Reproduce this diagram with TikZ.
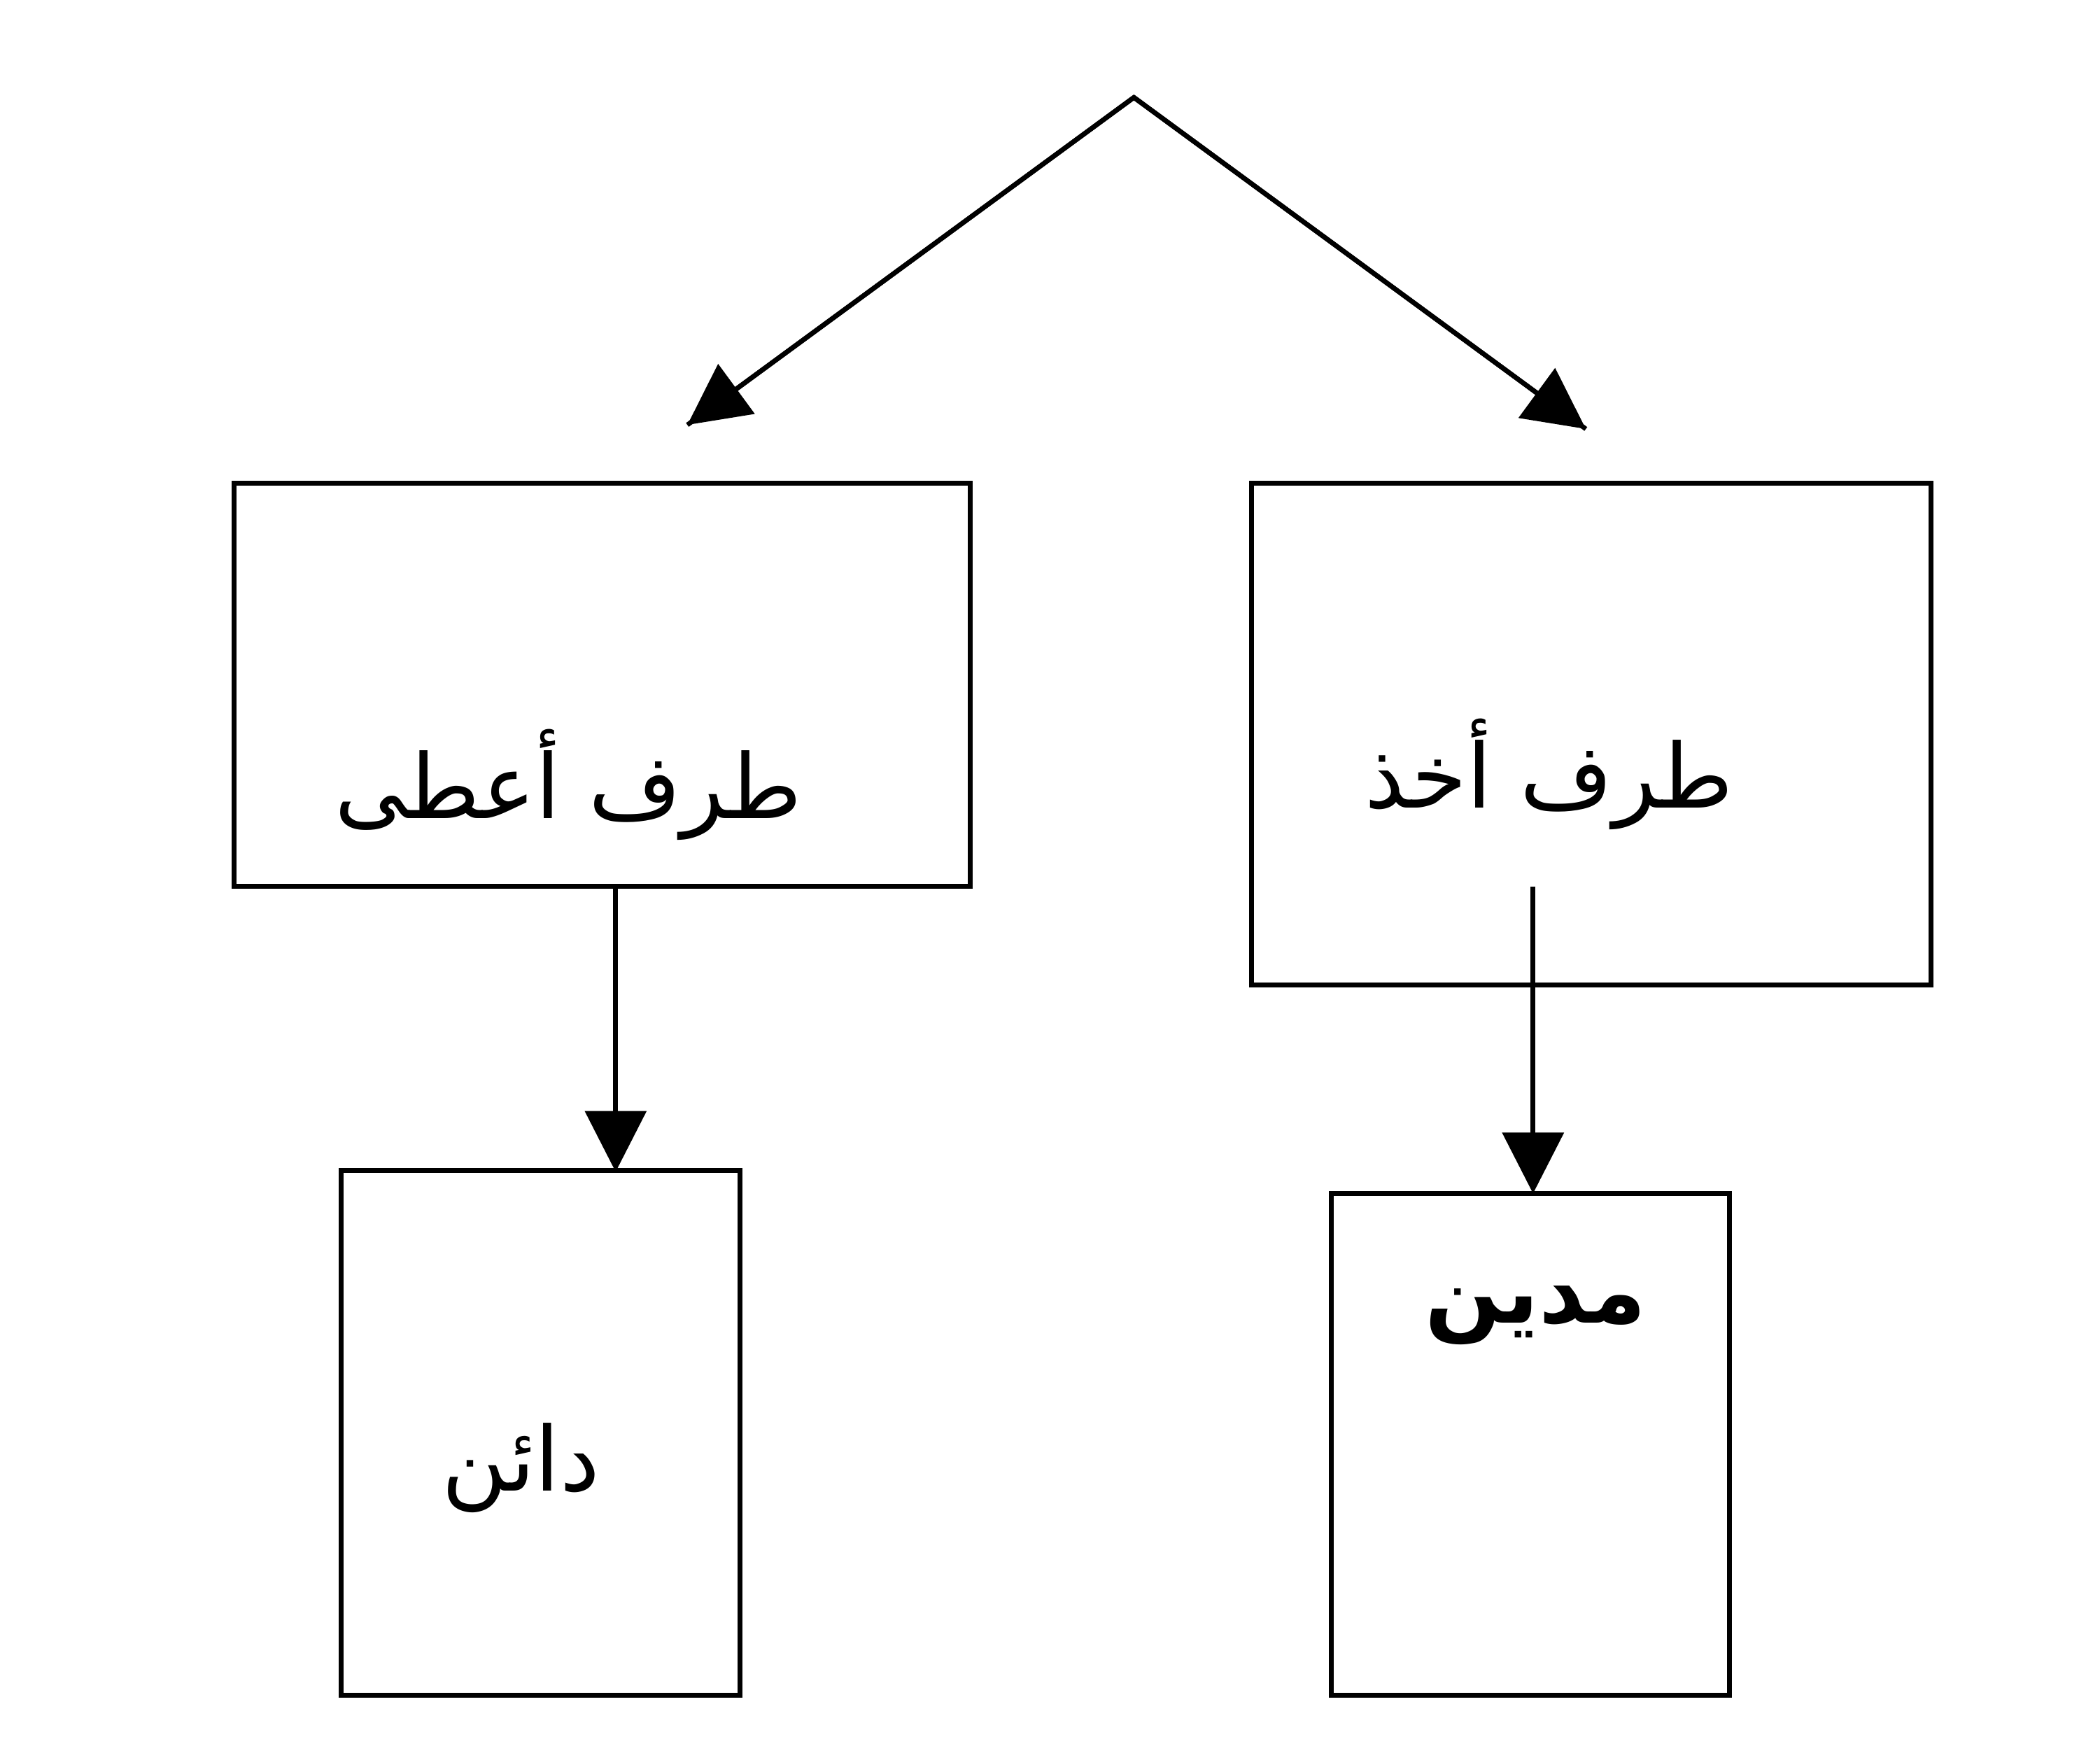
\documentclass[tikz,border=0pt]{standalone}
\usepackage{fontspec}
\newfontfamily\arabicfont[Script=Arabic]{DejaVu Sans}
\TeXXeTstate=1
\usetikzlibrary{arrows.meta}
\begin{document}
\begin{tikzpicture}[x=1pt,y=-1pt,
  box/.style={draw,line width=3.5pt},
  lbl/.style={font=\arabicfont\fontsize{66}{76}\selectfont},
  conn/.style={line width=3.5pt,-{Triangle[length=45pt,width=45pt]}}]
\useasboundingbox (0,0) rectangle (1552,1295);
\draw[box] (173,357) rectangle (717,655);
\draw[box] (925,357) rectangle (1427,728);
\draw[box] (252,865) rectangle (547,1253);
\draw[box] (984,882) rectangle (1278,1253);
\node[lbl] (t1) at (420,580) {\beginR طرف أعطى\endR};
\node[lbl] (t2) at (1145,572) {\beginR طرف أخذ\endR};
\node[lbl] (t3) at (385,1085) {\beginR دائن\endR};
\node[lbl,font=\arabicfont\bfseries\fontsize{66}{76}\selectfont] (t4) at (1135,972) {\beginR مدين\endR};
\coordinate (apex) at (838,72);
\coordinate (la) at (508,314);
\coordinate (ra) at (1172,317);
\coordinate (ls) at (455,655);
\coordinate (le) at (455,866);
\coordinate (rs) at (1133,655);
\coordinate (re) at (1133,882);
\draw[line width=3.5pt,line join=miter] (la) -- (apex) -- (ra);
\draw[conn] (apex) -- (la);
\draw[conn] (apex) -- (ra);
\draw[conn] (ls) -- (le);
\draw[conn] (rs) -- (re);
\end{tikzpicture}
\end{document}
